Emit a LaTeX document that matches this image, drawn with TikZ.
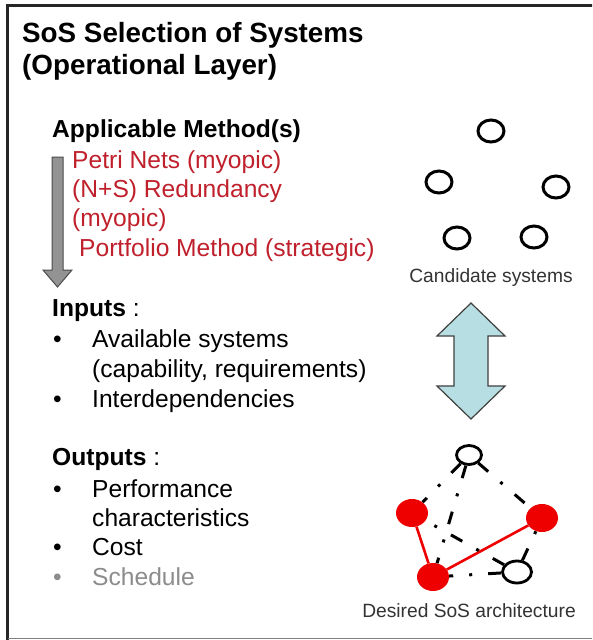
\documentclass[tikz,border=0pt]{standalone}
\usepackage{fontspec}
\setmainfont{Liberation Sans}
\usetikzlibrary{shapes.geometric}
\definecolor{redtxt}{RGB}{192,32,44}
\definecolor{arrblue}{RGB}{183,222,227}
\definecolor{nodered}{RGB}{238,0,0}
\definecolor{txtgray}{RGB}{140,140,140}
\begin{document}
\begin{tikzpicture}[x=1pt,y=-1pt,
  title/.style={anchor=base west, inner sep=0pt, font=\fontsize{27.8}{32}\selectfont\bfseries},
  body/.style={anchor=base west, inner sep=0pt, font=\fontsize{24.6}{29}\selectfont},
  head/.style={body, font=\fontsize{24.6}{29}\selectfont\bfseries},
  meth/.style={body, text=redtxt},
  blt/.style={body},
  captxt/.style={anchor=base, inner sep=0pt, font=\fontsize{19.2}{22}\selectfont, text=black!80},
  cand/.style={ellipse, draw=black, line width=3pt, minimum width=26pt, minimum height=22pt, inner sep=0pt},
  opennode/.style={ellipse, draw=black, line width=2.8pt, inner sep=0pt},
  rednode/.style={ellipse, fill=nodered, minimum width=32pt, minimum height=28pt, inner sep=0pt},
  dd/.style={draw=black, line width=3pt, dash pattern=on 13pt off 16pt on 3pt off 16pt},
  redline/.style={draw=nodered, line width=2.6pt}
]
\clip (0,0) rectangle (592,640);
\useasboundingbox (0,0) rectangle (592,640);
\fill[white] (0,0) rectangle (592,640);
% frame
\draw[black!85, line width=3pt] (7.5,660) -- (7.5,5.5) -- (600,5.5);
\draw[black!50, line width=1.5pt] (7.5,638.5) -- (600,638.5);

% title
\node[title] (t1) at (22,42) {SoS Selection of Systems};
\node[title] (t2) at (22,74) {(Operational Layer)};

% methods
\node[head] (am) at (52,137) {Applicable Method(s)};
\node[meth] (m1) at (72,168) {Petri Nets (myopic)};
\node[meth] (m2) at (72,197) {(N+S) Redundancy};
\node[meth] (m3) at (72,226) {(myopic)};
\node[meth] (m4) at (79,256) {Portfolio Method (strategic)};

% gray arrow
\shadedraw[draw=black!70, line width=1pt, left color=gray!85, middle color=gray!45, right color=gray!85]
  (52,157) -- (63,157) -- (63,270) -- (72,270) -- (57.5,287) -- (43,270) -- (52,270) -- cycle;

% inputs
\node[body] (inp) at (52,316) {\textbf{Inputs} :};
\node[blt] (b1) at (53,347) {•};
\node[body] (i1) at (92,347) {Available systems};
\node[body] (i2) at (92,377) {(capability, requirements)};
\node[blt] (b2) at (53,407) {•};
\node[body] (i3) at (92,407) {Interdependencies};

% outputs
\node[body] (outp) at (52,465) {\textbf{Outputs} :};
\node[blt] (b3) at (53,497) {•};
\node[body] (o1) at (92,497) {Performance};
\node[body] (o2) at (92,526) {characteristics};
\node[blt] (b4) at (53,555) {•};
\node[body] (o3) at (92,555) {Cost};
\node[blt, text=txtgray] (b5) at (53,585) {•};
\node[body, text=txtgray] (o4) at (92,585) {Schedule};

% candidate systems
\node[cand] (c1) at (491,131) {};
\node[cand] (c2) at (439,182) {};
\node[cand] (c3) at (556,187) {};
\node[cand] (c4) at (457,238) {};
\node[cand] (c5) at (534,237) {};
\node[captxt] (cs) at (491,282) {Candidate systems};

% double arrow
\draw[draw=black!75, line width=1.2pt, fill=arrblue]
  (471,303) -- (505,336) -- (488,336) -- (488,386) -- (505,386) -- (471,419)
  -- (437,386) -- (454,386) -- (454,336) -- (437,336) -- cycle;

% desired architecture
\node[opennode, minimum width=25pt, minimum height=19pt] (T) at (469,455) {};
\node[opennode, minimum width=29pt, minimum height=22pt] (BR) at (517,572) {};
\node[rednode] (L) at (412,513) {};
\node[rednode] (R) at (542,518) {};
\node[rednode] (B) at (433,577) {};
\draw[redline] (L) -- (B);
\draw[redline] (B) -- (R);
\draw[dd] (T) -- (L);
\draw[dd] (T) -- (B);
\draw[dd] (T) -- (R);
\draw[dd] (BR) -- (L);
\draw[dd] (BR) -- (B);
\draw[dd] (BR) -- (R);
\node[captxt] (ds) at (469,617) {Desired SoS architecture};
\end{tikzpicture}
\end{document}
